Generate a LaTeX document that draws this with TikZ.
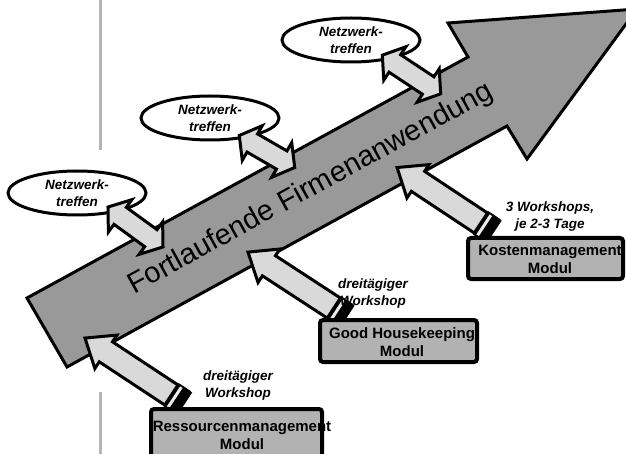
\documentclass[tikz,border=0pt]{standalone}
\usepackage{fontspec}
\setmainfont{Liberation Sans}
\usetikzlibrary{shapes.geometric}
\definecolor{bigfill}{RGB}{153,153,153}
\definecolor{lightfill}{RGB}{217,217,217}
\definecolor{boxfill}{RGB}{178,178,178}
\definecolor{vline}{RGB}{180,180,180}
\definecolor{stripe}{RGB}{235,235,235}
\tikzset{
 outl/.style={draw=black, line width=3pt, line join=miter},
 netz/.style={ellipse, draw=black, line width=3pt, fill=white, minimum width=138pt, minimum height=44pt, inner sep=0pt, align=center, font=\fontsize{13.5}{16.5}\selectfont\bfseries\itshape},
 modbox/.style={draw=black, line width=4pt, fill=boxfill, rounded corners=3pt},
 modtext/.style={align=center, font=\fontsize{15}{18}\selectfont\bfseries, inner sep=0pt},
 lbl/.style={align=center, font=\fontsize{13.5}{17}\selectfont\bfseries\itshape, inner sep=0pt},
}
\newcommand\dblarrow[4]{%
 \begin{scope}[shift={(#1,#2)},rotate=#3]
 \path[outl,fill=lightfill] (-#4,0) -- (-#4+15,-20) -- (-#4+15,-10.5) -- (#4-15,-10.5) -- (#4-15,-20) -- (#4,0) -- (#4-15,20) -- (#4-15,10.5) -- (-#4+15,10.5) -- (-#4+15,20) -- cycle;
 \end{scope}}
\newcommand\blockarrow[4]{%
 \begin{scope}[shift={(#1,#2)},rotate=#3]
 \path[outl,fill=lightfill] (0,-12) -- (#4-25,-12) -- (#4-25,-20) -- (#4,0) -- (#4-25,20) -- (#4-25,12) -- (0,12) -- cycle;
 \fill[black,rounded corners=1.5pt] (-1,-14) rectangle (16,14);
 \fill[stripe] (9,-12) rectangle (12,12);
 \end{scope}}
\begin{document}
\begin{tikzpicture}[x=1pt,y=-1pt]
\useasboundingbox (0,0) rectangle (626,454);
% gray vertical line
\draw[vline, line width=3pt] (100.5,0) -- (100.5,150);
\draw[vline, line width=3pt] (100.5,392) -- (100.5,454);
% big arrow
\path[outl, fill=bigfill] (27,298) -- (468,57) -- (448,23) -- (637,9) -- (527,159) -- (507,126) -- (67,367) -- cycle;
\node[rotate=28.7, font=\fontsize{29}{29}\selectfont, inner sep=0pt] (main) at (311,189) {Fortlaufende Firmenanwendung};
% ellipses
\node[netz] (n1) at (77,193) {Netzwerk-\\treffen};
\node[netz] (n2) at (210,118) {Netzwerk-\\treffen};
\node[netz] (n3) at (351,40) {Netzwerk-\\treffen};
% double arrows
\dblarrow{135.5}{227}{-36}{34}
\dblarrow{267}{151.5}{-30}{32}
\dblarrow{411.5}{74.5}{-33.5}{35}
% block arrows from modules
\blockarrow{183.5}{403}{146.6}{118}
\blockarrow{346}{316}{146.9}{117}
\blockarrow{493}{231}{146.5}{115}
% module boxes
\path[modbox] (468,238) rectangle (623,279);
\node[modtext] (kosten) at (550,259) {Kostenmanagement\\Modul};
\path[modbox] (320,320) rectangle (477,362);
\node[modtext] (gh) at (402,342) {Good Housekeeping\\Modul};
\fill[boxfill] (151,409) rectangle (322,470);
\node[modtext] (res) at (242,435) {Ressourcenmanagement\\Modul};
\draw[line width=4pt, rounded corners=3pt] (151,409) rectangle (322,470);
% labels
\node[lbl] (l1) at (238,386) {dreitägiger\\Workshop};
\node[lbl] (l2) at (373,294) {dreitägiger\\Workshop};
\node[lbl] (l3) at (550,217) {3 Workshops,\\je 2-3 Tage};
\end{tikzpicture}
\end{document}
